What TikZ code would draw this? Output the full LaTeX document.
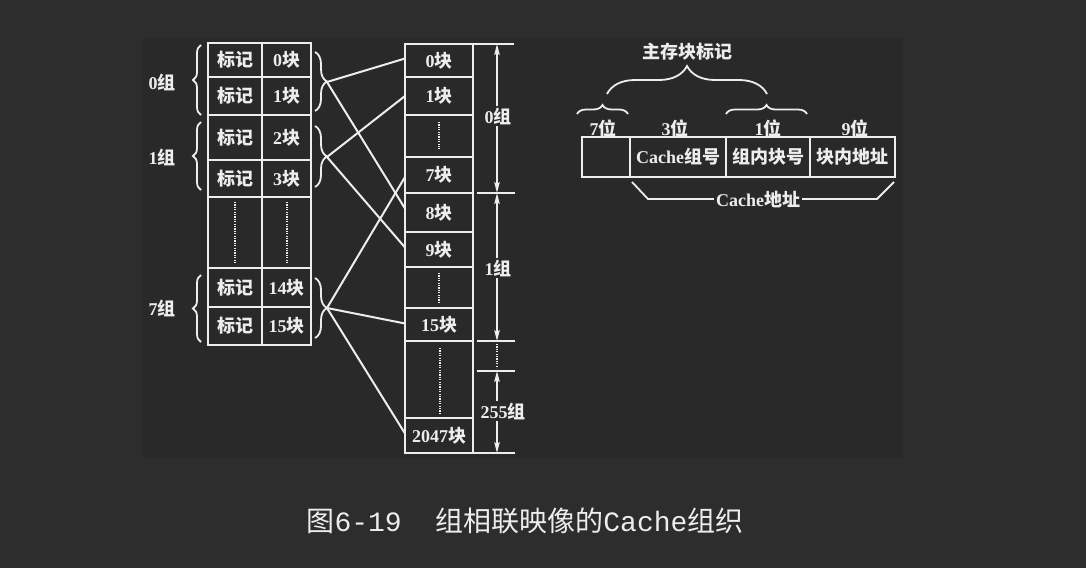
\documentclass[tikz,border=0pt]{standalone}
\usepackage{fontspec}
\setmainfont{Liberation Serif}
\newfontfamily\cjk{Noto Sans CJK SC}
\newfontfamily\capmono{Liberation Mono}
\usetikzlibrary{decorations.pathreplacing,arrows.meta}
\definecolor{bgout}{HTML}{2D2D2D}
\definecolor{bgin}{HTML}{292929}
\definecolor{fg}{HTML}{EDEDED}
\newcommand{\K}[1]{{\cjk #1}}
\newcommand{\cel}[6]{\node[cell, minimum width={(#4-(#2))*1pt}, minimum height={(#5-(#3))*1pt}] (#1) at (#2,#3) {#6};}
\begin{document}
\begin{tikzpicture}[x=1pt,y=-1pt,
  every node/.style={text=fg, font=\fontsize{18}{19}\selectfont\bfseries, inner sep=0pt},
  cell/.style={draw=fg, line width=2.1pt, anchor=north west, inner sep=0pt, outer sep=0pt},
  ln/.style={draw=fg, line width=2pt},
  brc/.style={draw=fg, line width=1.8pt, decorate, decoration={brace, amplitude=#1}},
  dots/.style={draw=fg, line width=2pt, dash pattern=on 1.2pt off 1.2pt},
  dim/.style={draw=fg, line width=1.6pt, {Stealth[length=11pt,width=5.5pt,inset=2pt]}-{Stealth[length=11pt,width=5.5pt,inset=2pt]}},
  lbl/.style={fill=bgin, inner sep=2pt}
]
\fill[bgout] (0,0) rectangle (1086,568);
\fill[bgin] (143,38) rectangle (903,458);
\useasboundingbox (0,0) rectangle (1086,568);

% left table (cache)
\cel{a1}{208}{43}{262}{77}{\K{标记}}
\cel{b1}{262}{43}{311}{77}{0\K{块}}
\cel{a2}{208}{77}{262}{115}{\K{标记}}
\cel{b2}{262}{77}{311}{115}{1\K{块}}
\cel{a3}{208}{115}{262}{160}{\K{标记}}
\cel{b3}{262}{115}{311}{160}{2\K{块}}
\cel{a4}{208}{160}{262}{197}{\K{标记}}
\cel{b4}{262}{160}{311}{197}{3\K{块}}
\cel{a5}{208}{197}{262}{268}{}
\cel{b5}{262}{197}{311}{268}{}
\cel{a6}{208}{268}{262}{307}{\K{标记}}
\cel{b6}{262}{268}{311}{307}{14\K{块}}
\cel{a7}{208}{307}{262}{345}{\K{标记}}
\cel{b7}{262}{307}{311}{345}{15\K{块}}
\draw[dots] (235,202) -- (235,263);
\draw[dots] (287,202) -- (287,263);

% group labels and braces (left)
\node (g0) at (162,82) {0\K{组}};
\node (g1) at (162,157) {1\K{组}};
\node (g7) at (162,308) {7\K{组}};
\draw[brc=8pt] (201,115) -- (201,45);
\draw[brc=8pt] (201,190) -- (201,122);
\draw[brc=8pt] (201,342) -- (201,275);
\draw[brc=12pt] (315,52) -- (315,111);
\draw[brc=12pt] (315,126) -- (315,187);
\draw[brc=12pt] (315,278) -- (315,338);
\coordinate (t0) at (327,82);
\coordinate (t1) at (327,157);
\coordinate (t7) at (327,308);

% main memory column
\cel{m0}{405}{44}{473}{77}{0\K{块}}
\cel{m1}{405}{77}{473}{115}{1\K{块}}
\cel{md1}{405}{115}{473}{157}{}
\cel{m7}{405}{157}{473}{193}{7\K{块}}
\cel{m8}{405}{193}{473}{232}{8\K{块}}
\cel{m9}{405}{232}{473}{267}{9\K{块}}
\cel{md2}{405}{267}{473}{308}{}
\cel{m15}{405}{308}{473}{341}{15\K{块}}
\cel{md3}{405}{341}{473}{418}{}
\cel{m2047}{405}{418}{473}{453}{2047\K{块}}
\draw[dots] (439,122) -- (439,149);
\draw[dots] (439,273) -- (439,302);
\draw[dots] (440,348) -- (440,413);

% mapping lines
\draw[ln] (t0) -- ([yshift=2pt]m0.west);
\draw[ln] (t0) -- ([yshift=4pt]m8.west);
\draw[ln] (t1) -- (m1.west);
\draw[ln] (t1) -- ([yshift=2pt]m9.west);
\draw[ln] (t7) -- ([yshift=-2pt]m7.west);
\draw[ln] (t7) -- ([yshift=1pt]m15.west);
\draw[ln] (t7) -- ([yshift=2pt]m2047.west);

% dimension lines
\draw[ln] (473,44) -- (514,44);
\draw[ln] (477,193) -- (515,193);
\draw[ln] (477,341) -- (515,341);
\draw[ln] (477,371) -- (515,371);
\draw[ln] (473,453) -- (515,453);
\draw[dim] (497,44) -- (497,193);
\draw[dim] (497,193) -- (497,341);
\draw[dim] (497,371) -- (497,453);
\draw[dots] (497,344) -- (497,368);
\node[lbl] (d0) at (498,116) {0\K{组}};
\node[lbl] (d1) at (498,268) {1\K{组}};
\node[lbl] (d255) at (503,411) {255\K{组}};

% address format
\cel{f1}{582}{137}{630}{177}{}
\cel{f2}{630}{137}{726}{177}{Cache\K{组号}}
\cel{f3}{726}{137}{810}{177}{\K{组内块号}}
\cel{f4}{810}{137}{895}{177}{\K{块内地址}}
\node (w7) at (603,128) {7\K{位}};
\node (w3) at (675,128) {3\K{位}};
\node (w1) at (768,128) {1\K{位}};
\node (w9) at (855,128) {9\K{位}};
\draw[brc=9pt] (577,114) -- (628,114);
\draw[brc=9pt] (726,114) -- (807,114);
\draw[brc=28pt] (607,94) -- (767,94);
\node (tag) at (687,52) {\K{主存块标记}};
\node[lbl] (ca) at (758,199) {Cache\K{地址}};
\draw[ln, line width=1.8pt] (632,182) -- (648,199) -- (ca.west);
\draw[ln, line width=1.8pt] (ca.east) -- (877,199) -- (894,182);

% caption
\node (cap) at (525,521) {\fontsize{28}{30}\selectfont\mdseries\K{图}\capmono 6-19\ \ \K{组相联映像的}Cache\K{组织}};
\end{tikzpicture}
\end{document}
